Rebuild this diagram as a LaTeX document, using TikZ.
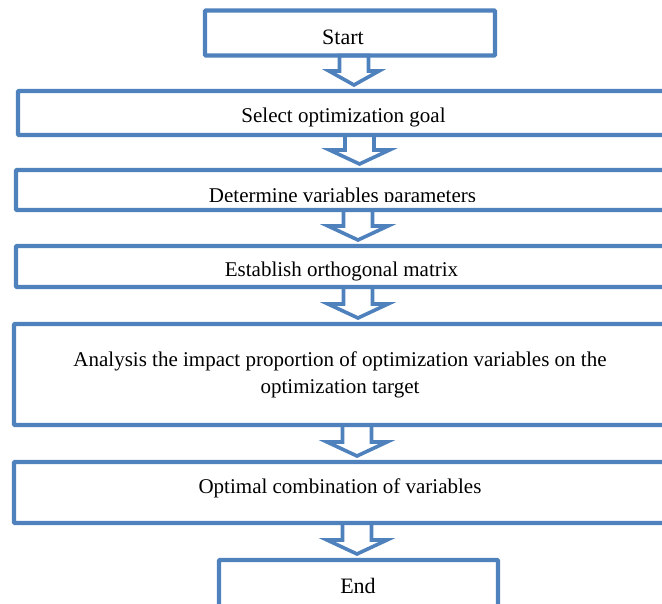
\documentclass[tikz,border=0pt]{standalone}
\usepackage{fontspec}
\setmainfont{Liberation Serif}
\usetikzlibrary{calc}
\definecolor{FlowBlue}{HTML}{4F81BD}
\newcommand{\FlowBox}[5]{%
  \node[flowbox,minimum width=#4pt,minimum height=#5pt] (#1) at (#2,#3) {};%
}
\newcommand{\FlowText}[5][]{%
  \node[flowtext,#1] (#2) at (#3,#4) {#5};%
}
\newcommand{\FlowArrow}[4]{%
  \draw[flowarrow] let \p1=(#1.south), \p2=(#2.north) in
    (#3pt-14.5pt,\y1) -- (#3pt-14.5pt,\y2+20pt) -- (#3pt-#4pt,\y2+20pt) -- (#3pt,\y2+6pt)
    -- (#3pt+#4pt,\y2+20pt) -- (#3pt+14.5pt,\y2+20pt) -- (#3pt+14.5pt,\y1) -- cycle;%
}

\begin{document}
\begin{tikzpicture}[x=1pt,y=-1pt,
  flowbox/.style={draw=FlowBlue,line width=4.2pt,inner sep=0pt,outer sep=0pt,rounded corners=0.8pt},
  flowtext/.style={anchor=base,inner sep=0pt,font=\fontsize{21}{27}\selectfont},
  flowarrow/.style={draw=FlowBlue,line width=3.6pt}]
\useasboundingbox (0,0) rectangle (662,604);
\clip (0,0) rectangle (662,604);
\FlowBox{start}{350}{33}{290}{45}
\FlowBox{goal}{342}{113}{648}{44}
\FlowBox{vars}{342}{190}{652}{40}
\FlowBox{matrix}{342}{266.5}{652}{41}
\FlowBox{impact}{342}{374.5}{656}{101}
\FlowBox{combo}{342}{492.5}{656}{61}
\FlowBox{stop}{358.5}{600}{279}{80}
\FlowText[font=\fontsize{22}{26}\selectfont]{starttxt}{343}{45}{Start}
\FlowText{goaltxt}{343.5}{123}{Select optimization goal}
\begin{scope}
  \clip (16,172) rectangle (668,201.5);
  \FlowText{varstxt}{342.5}{202.5}{Determine variables parameters}
\end{scope}
\FlowText{matrixtxt}{341.5}{277}{Establish orthogonal matrix}
\FlowText[align=center]{impacttxt}{340}{393}{Analysis the impact proportion of optimization variables on the\\optimization target}
\FlowText{combotxt}{340}{493}{Optimal combination of variables}
\FlowText[font=\fontsize{22}{26}\selectfont]{stoptxt}{358}{593}{End}
\FlowArrow{start}{goal}{354}{25}
\FlowArrow{goal}{vars}{359.5}{30}
\FlowArrow{vars}{matrix}{358}{30}
\FlowArrow{matrix}{impact}{358}{30}
\FlowArrow{impact}{combo}{357}{30}
\FlowArrow{combo}{stop}{357}{30}
\end{tikzpicture}
\end{document}
